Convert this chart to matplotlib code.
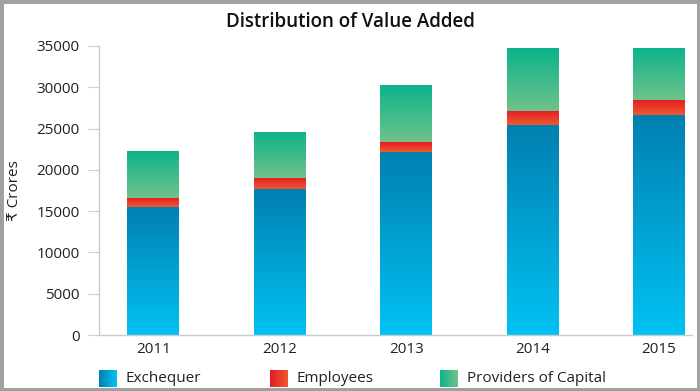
import matplotlib
matplotlib.use('Agg')
import matplotlib.pyplot as plt
from matplotlib.colors import LinearSegmentedColormap
from matplotlib.patches import Rectangle
import numpy as np

plt.rcParams['font.family'] = ['Open Sans', 'DejaVu Sans']

years = ['2011', '2012', '2013', '2014', '2015']
exchequer = [15530, 17630, 22210, 25400, 26610]
employees = [1100, 1390, 1210, 1700, 1870]
capital = [5700, 5620, 6800, 7610, 6230]
series_names = ['Exchequer', 'Employees', 'Providers of Capital']

# (bottom colour, top colour) for each series
grads = [('#00c2f3', '#0080b0'), ('#ef5a30', '#e31b24'), ('#70c28c', '#0cb38a')]

fig = plt.figure(figsize=(7.0, 3.91), dpi=100)
ax = fig.add_axes([0.1414, 0.1432, 0.847, 0.7392])

x = np.arange(len(years))
bottoms = np.zeros(len(years))
grad = np.linspace(0, 1, 256).reshape(-1, 1)
for vals, (c0, c1) in zip([exchequer, employees, capital], grads):
    cmap = LinearSegmentedColormap.from_list('g', [c0, c1])
    bars = ax.bar(x, vals, 0.41, bottom=bottoms, color='none', linewidth=0)
    for b in bars:
        x0, y0 = b.get_x(), b.get_y()
        im = ax.imshow(grad, cmap=cmap, origin='lower', aspect='auto',
                       extent=[x0, x0 + b.get_width(), y0, y0 + b.get_height()],
                       interpolation='bicubic', zorder=2)
        im.set_clip_path(b)
    bottoms += np.array(vals)

ax.set_xlim(-0.43, 4.26)
ax.set_ylim(0, 35000)
ax.set_yticks(range(0, 35001, 5000))
ax.set_xticks(x)
ax.set_xticklabels(years)
for s in ['top', 'right']:
    ax.spines[s].set_visible(False)
for s in ['left', 'bottom']:
    ax.spines[s].set_color('#cccccc')
    ax.spines[s].set_linewidth(1)
ax.tick_params(axis='y', length=8, color='#cccccc', labelsize=11, pad=6, labelcolor='#222222')
ax.tick_params(axis='x', length=0, labelsize=11, pad=5, labelcolor='#222222')
ax.set_ylabel('₹ Crores', fontsize=11, color='#222222', labelpad=10)

fig.text(0.5, 0.945, 'Distribution of Value Added', ha='center', va='center',
         fontsize=13.5, fontweight='semibold', color='#111111')

# legend with gradient swatches
hgrad = np.linspace(0, 1, 64).reshape(1, -1)
leg_x = [0.141, 0.386, 0.629]
for name, (c0, c1), lx in zip(series_names, grads, leg_x):
    sw = fig.add_axes([lx, 0.01, 0.025, 0.044])
    sw.imshow(hgrad, cmap=LinearSegmentedColormap.from_list('s', [c1, c0]), aspect='auto')
    sw.set_axis_off()
    fig.text(lx + 0.038, 0.033, name, ha='left', va='center', fontsize=11, color='#222222')

fig.patches.append(Rectangle((0, 0), 1, 1, transform=fig.transFigure, fill=False,
                             edgecolor='#a0a0a0', linewidth=5, zorder=10))

fig.savefig('out.png', dpi=100)
